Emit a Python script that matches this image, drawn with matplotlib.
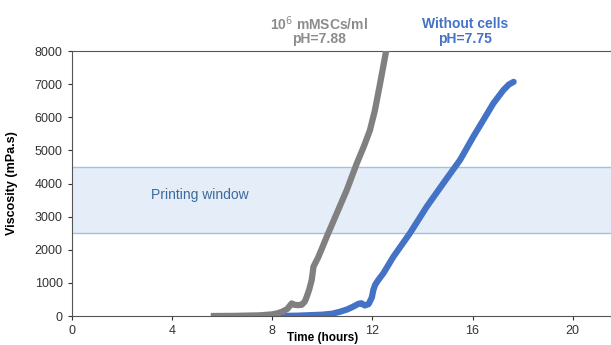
import numpy as np
import matplotlib as mpl
mpl.use('Agg')
import matplotlib.pyplot as plt

plt.rcParams['font.family'] = ['Liberation Sans', 'DejaVu Sans']

# gray curve: 10^6 mMSCs/ml, pH=7.88
cells_t = [5.55, 6.5, 7.5, 8.0, 8.2, 8.4, 8.6, 8.78, 8.91, 9.05, 9.18, 9.3, 9.38,
           9.48, 9.58, 9.65, 9.85, 10.18, 10.58, 10.98, 11.38, 11.65, 11.9, 12.1,
           12.31, 12.55, 12.6]
cells_v = [0, 5, 20, 50, 80, 130, 210, 380, 335, 330, 340, 430, 580,
           800, 1090, 1490, 1790, 2395, 3100, 3805, 4610, 5100, 5600, 6200,
           7025, 8000, 8100]

# blue curve: without cells, pH=7.75
nocell_t = [8.25, 9.0, 10.0, 10.4, 10.71, 11.0, 11.24, 11.45, 11.56, 11.7, 11.85,
            11.98, 12.04, 12.11, 12.24, 12.44, 12.84, 13.5, 14.17, 14.83, 15.5,
            16.03, 16.43, 16.83, 17.23, 17.45, 17.64]
nocell_v = [0, 10, 40, 70, 130, 200, 285, 370, 385, 320, 360,
            560, 785, 940, 1090, 1290, 1790, 2500, 3300, 4005, 4710,
            5415, 5915, 6420, 6820, 6990, 7070]

window_lo, window_hi = 2500, 4500
x_ticks = [0, 4, 8, 12, 16, 20]
y_ticks = [0, 1000, 2000, 3000, 4000, 5000, 6000, 7000, 8000]

gray = '#808080'
blue = '#4472c4'

fig = plt.figure(figsize=(6.11, 3.45), dpi=100)
ax = fig.add_axes([0.1174, 0.084, 0.984, 0.768])

ax.axhspan(window_lo, window_hi, facecolor='#e4edf8', edgecolor='none', zorder=0)
ax.axhline(window_lo, color='#9dc3e6', lw=1, zorder=1)
ax.axhline(window_hi, color='#9dc3e6', lw=1, zorder=1)
ax.text(5.1, 3650, 'Printing window', color='#3b6a9b', fontsize=10,
        ha='center', va='center')

ax.plot(cells_t, cells_v, color=gray, lw=4.5, solid_capstyle='butt',
        solid_joinstyle='round', zorder=3)
ax.plot(nocell_t, nocell_v, color=blue, lw=4.5, solid_capstyle='round',
        solid_joinstyle='round', zorder=2)

ax.set_xlim(0, 24)
ax.set_ylim(0, 8000)
ax.set_xticks(x_ticks)
ax.set_yticks(y_ticks)
ax.tick_params(labelsize=9, colors='#333333', length=3, direction='out')
for s in ['left', 'top', 'bottom']:
    ax.spines[s].set_color('#555555')
ax.spines['right'].set_visible(False)

ax.set_ylabel('Viscosity (mPa.s)', fontsize=9, fontweight='bold')
ax.yaxis.set_label_coords(-0.09, 0.5)
ax.set_xlabel('Time (hours)', fontsize=8.5, fontweight='bold')
ax.xaxis.set_label_coords(10 / 24, -0.062)

fig.text(319 / 611, 1 - 24 / 345, '10$^{6}$ mMSCs/ml', color='#8c8c8c',
         fontsize=10, fontweight='bold', ha='center', va='center')
fig.text(319 / 611, 1 - 39 / 345, 'pH=7.88', color='#8c8c8c',
         fontsize=10, fontweight='bold', ha='center', va='center')
fig.text(465 / 611, 1 - 24 / 345, 'Without cells', color=blue,
         fontsize=10, fontweight='bold', ha='center', va='center')
fig.text(465 / 611, 1 - 39 / 345, 'pH=7.75', color=blue,
         fontsize=10, fontweight='bold', ha='center', va='center')

plt.savefig('out.png', dpi=100)
